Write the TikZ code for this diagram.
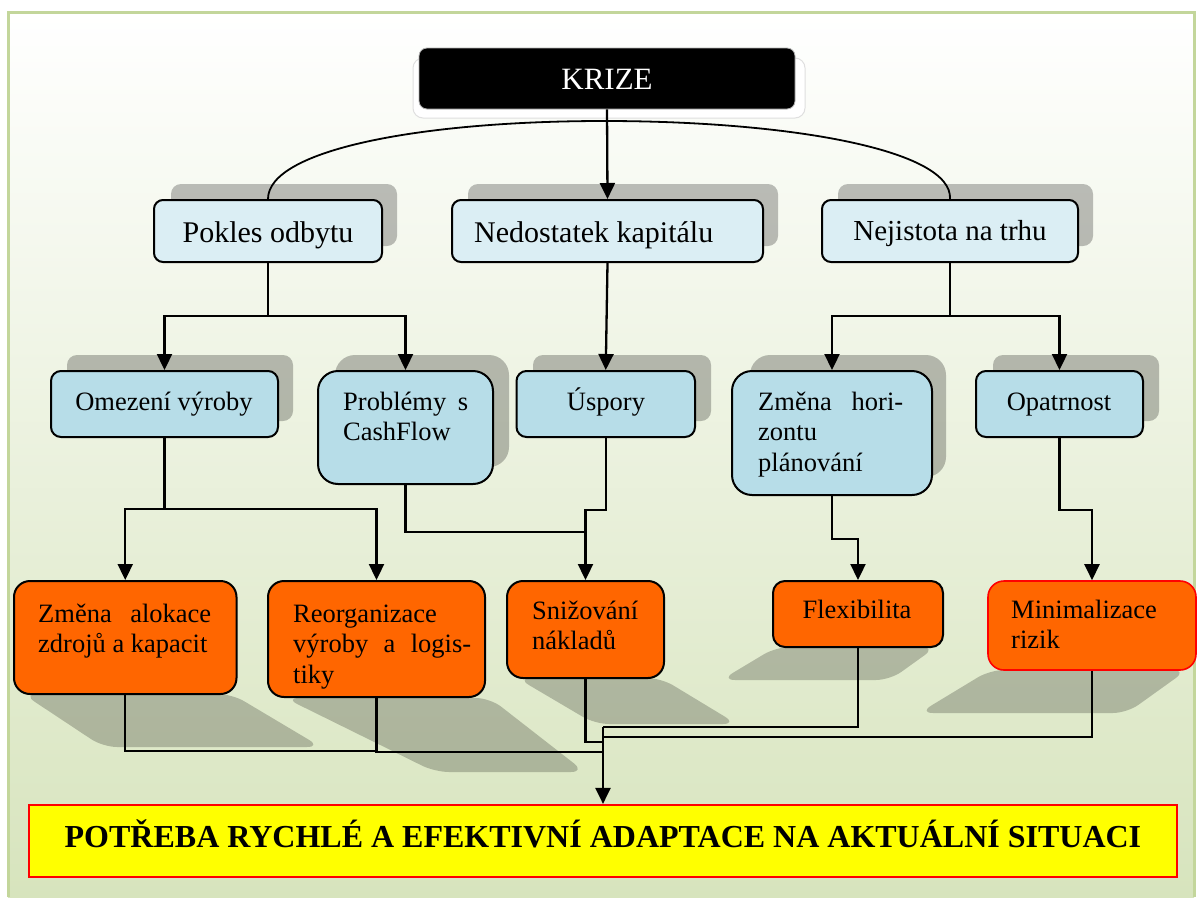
\documentclass[tikz,border=0pt]{standalone}
\usepackage{fontspec}
\setmainfont{Liberation Serif}
\usetikzlibrary{arrows.meta}
\definecolor{lvlAfill}{HTML}{DBEEF4}
\definecolor{lvlBfill}{HTML}{B7DDE8}
\definecolor{lvlCfill}{HTML}{FF6600}
\definecolor{framegreen}{HTML}{C3D69B}
\definecolor{bgbottom}{HTML}{D7E4BD}
\definecolor{goalfill}{HTML}{FFFF00}
\definecolor{redline}{HTML}{FF0000}
\begin{document}
\begin{tikzpicture}[x=1pt,y=-1pt,
  boxbase/.style={draw=black, line width=2pt, inner sep=0pt},
  lvlA/.style={boxbase, fill=lvlAfill, rounded corners=9pt},
  lvlB/.style={boxbase, fill=lvlBfill, rounded corners=10pt},
  lvlC/.style={boxbase, fill=lvlCfill, rounded corners=16pt},
  boxshadow/.style={fill=black, fill opacity=0.25, rounded corners=10pt},
  floorshadow/.style={fill=black, fill opacity=0.22, rounded corners=14pt},
  conn/.style={draw=black, line width=2.3pt},
  arr/.style={conn, -{Triangle[length=16pt,width=15pt]}},
  tA/.style={inner sep=0pt, font=\fontsize{30}{35}\selectfont},
  tB/.style={inner sep=0pt, align=left, font=\fontsize{26.5}{30.5}\selectfont},
]
\useasboundingbox (0,0) rectangle (1199,897);

% background panel with green frame
\shade[top color=white, bottom color=bgbottom] (8,12) rectangle (1194,897);
\draw[framegreen, line width=3pt] (8,897) -- (8,12) -- (1194,12) -- (1194,897);

% raised plate behind the title
\draw[gray!25, fill=white, line width=1pt, rounded corners=10pt] (413,58) rectangle (805,118);
\node[draw=gray!60, fill=black, line width=0.8pt, rounded corners=8pt,
      minimum width=376pt, minimum height=61pt] (krize) at (607,78.5) {};
\node[inner sep=0pt, text=white, anchor=base, font=\fontsize{31}{36}\selectfont] (krize-t) at (607,89) {KRIZE};

% drop shadows of the blue boxes
\fill[boxshadow] (171,184) rectangle (397,246);
\fill[boxshadow] (468,184) rectangle (778,246);
\fill[boxshadow] (838,184) rectangle (1093,246);
\fill[boxshadow] (67,355) rectangle (293,421);
\fill[boxshadow, rounded corners=20pt] (335,355) rectangle (509,467);
\fill[boxshadow] (533,355) rectangle (711,421);
\fill[boxshadow, rounded corners=20pt] (750,355) rectangle (946,477);
\fill[boxshadow] (993,355) rectangle (1159,421);

% floor shadows of the orange boxes
\fill[floorshadow] (23,694) -- (232,694) -- (321,747) -- (103,747) -- cycle;
\fill[floorshadow] (285,698) -- (490,698) -- (585,772) -- (435,772) -- cycle;
\fill[floorshadow] (517,678) -- (661,678) -- (737,724) -- (595,724) -- cycle;
\fill[floorshadow] (776,647) -- (936,647) -- (890,680) -- (721,680) -- cycle;
\fill[floorshadow] (990,670) -- (1187,670) -- (1127,713) -- (919,713) -- cycle;

% boxes
\node[lvlA, minimum width=228pt, minimum height=62pt] (pokles) at (268,231) {};
\node[lvlA, minimum width=311pt, minimum height=62pt] (nedo) at (607.5,231) {};
\node[lvlA, minimum width=256pt, minimum height=62pt] (nejis) at (950,231) {};

\node[lvlB, minimum width=227pt, minimum height=66pt] (omez) at (164.5,404) {};
\node[lvlB, rounded corners=20pt, minimum width=175pt, minimum height=113pt] (prob) at (405.5,427.5) {};
\node[lvlB, minimum width=178.5pt, minimum height=66pt] (usp) at (605.75,404) {};
\node[lvlB, rounded corners=20pt, minimum width=200pt, minimum height=124pt] (hor) at (832,433) {};
\node[lvlB, minimum width=167pt, minimum height=66pt] (opat) at (1059.5,404) {};

\node[lvlC, minimum width=222.5pt, minimum height=113pt] (zmal) at (125.25,637.5) {};
\node[lvlC, minimum width=217pt, minimum height=116pt] (reorg) at (376.5,639) {};
\node[lvlC, minimum width=157pt, minimum height=97pt] (sniz) at (585.5,629.5) {};
\node[lvlC, rounded corners=12pt, minimum width=170pt, minimum height=66pt] (flex) at (858,614) {};
\node[lvlC, draw=redline, line width=1.6pt, minimum width=208pt, minimum height=89pt] (mini) at (1092,625.5) {};

\node[draw=redline, fill=goalfill, line width=2.2pt, inner sep=0pt,
      minimum width=1148pt, minimum height=72pt] (goal) at (603,841) {};

% connectors: crisis to the three causes
\draw[conn, line width=1.8pt] (pokles.north) .. controls (268,150) and (420,121) .. (604,121)
                          .. controls (790,121) and (953,150) .. (nejis.north);
\draw[arr] (krize.south) -- (nedo.north);

% causes to effects
\coordinate (jp) at (268,316);
\draw[conn] (pokles.south) -- (jp);
\draw[arr] (jp) -| (omez.north);
\draw[arr] (jp) -| (prob.north);
\draw[arr] (nedo.south) -- (usp.north);
\coordinate (jn) at (950,316);
\draw[conn] (nejis.south) -- (jn);
\draw[arr] (jn) -| (hor.north);
\draw[arr] (jn) -| (opat.north);

% effects to measures
\coordinate (jo) at (164.5,509);
\draw[conn] (omez.south) -- (jo);
\draw[arr] (jo) -| (zmal.north);
\draw[arr] (jo) -| (reorg.north);
\draw[arr] (usp.south) -- ++(0,72) -| (sniz.north);
\coordinate (js) at (585.5,532);
\draw[conn] (prob.south) |- (js);
\draw[arr] (hor.south) -- ++(0,43) -| (flex.north);
\draw[arr] (opat.south) -- ++(0,72) -| (mini.north);

% measures to the common goal
\coordinate (hub) at (603,727);
\coordinate (ja) at (376.5,751);
\coordinate (jr) at (603,752);
\coordinate (jz) at (603,742);
\coordinate (jm) at (603,737);
\draw[conn] (zmal.south) |- (ja);
\draw[conn] (reorg.south) |- (jr);
\draw[conn] (sniz.south) |- (jz);
\draw[conn] (flex.south) |- (hub);
\draw[conn] (mini.south) |- (jm);
\draw[arr] (hub) -- (goal.north);

% labels
\node[tA, anchor=base] (pokles-t) at (268,242) {Pokles odbytu};
\node[tA, anchor=base west] (nedo-t) at (474,242) {Nedostatek kapitálu};
\node[tA, anchor=base, font=\fontsize{29}{34}\selectfont] (nejis-t) at (950,240) {Nejistota na trhu};

\node[tB, anchor=base] (omez-t) at (164,410) {Omezení výroby};
\node[tB, anchor=north west] (prob-t) at (343,388.65) {\strut\makebox[125pt][s]{Problémy s}\\CashFlow};
\node[tB, anchor=base] (usp-t) at (606,410) {Úspory};
\node[tB, anchor=north west] (hor-t) at (758,388.65) {\strut\makebox[145pt][s]{Změna hori-}\\zontu\\plánování};
\node[tB, anchor=base] (opat-t) at (1059,410) {Opatrnost};

\node[tB, anchor=north west] (zmal-t) at (38,600.65) {\strut\makebox[173pt][s]{Změna alokace}\\zdrojů a kapacit};
\node[tB, anchor=north west] (reorg-t) at (293,600.65) {\strut Reorganizace\\\makebox[178pt][s]{výroby a logis-}\\tiky};
\node[tB, anchor=north west] (sniz-t) at (532,597.65) {\strut Snižování\\nákladů};
\node[tB, anchor=base] (flex-t) at (857,618) {Flexibilita};
\node[tB, anchor=north west] (mini-t) at (1011,596.65) {\strut Minimalizace\\rizik};

\node[inner sep=0pt, anchor=base, font=\bfseries\fontsize{32}{37}\selectfont] (goal-t) at (603,847)
  {POTŘEBA RYCHLÉ A EFEKTIVNÍ ADAPTACE NA AKTUÁLNÍ SITUACI};
\end{tikzpicture}
\end{document}
